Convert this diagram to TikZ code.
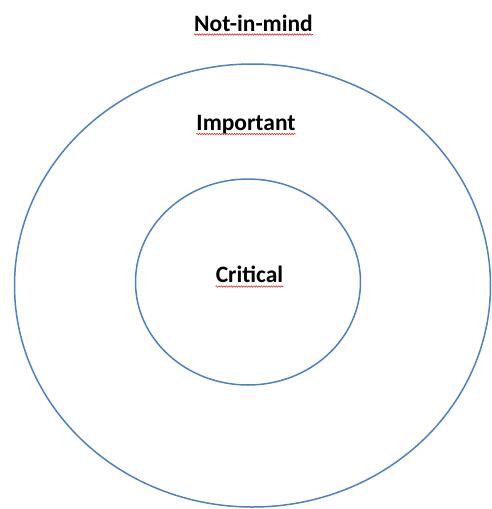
\documentclass[tikz,border=0pt]{standalone}
\usepackage{fontspec}
\setmainfont{Carlito}
\usetikzlibrary{decorations.pathmorphing}
\definecolor{ringblue}{RGB}{79,129,189}
\definecolor{squig}{RGB}{220,40,40}
\tikzset{
  ring/.style={draw=ringblue, line width=1.5pt},
  lbl/.style={font=\fontsize{23.5}{28}\selectfont\bfseries, anchor=base, inner sep=0pt},
  spell/.style={draw=squig, line width=0.6pt, decorate, decoration={snake, amplitude=0.7pt, segment length=2.5pt}}
}
\begin{document}
\begin{tikzpicture}[x=1pt,y=-1pt]
\useasboundingbox (0,0) rectangle (492,509);
\draw[ring] (252.5,285.5) ellipse [x radius=238, y radius=221.5];
\draw[ring] (248,282) ellipse [x radius=112.5, y radius=103];
\node[lbl] (nim) at (253.5,31) {Not-in-mind};
\node[lbl] (imp) at (246,130) {Important};
\node[lbl] (cri) at (249.5,282) {Critical};
\draw[spell] ([yshift=-3.5pt]nim.base west) -- ([yshift=-3.5pt]nim.base east);
\draw[spell] ([yshift=-4pt]imp.base west) -- ([yshift=-4pt]imp.base east);
\draw[spell] ([yshift=-4.5pt]cri.base west) -- ([yshift=-4.5pt]cri.base east);
\end{tikzpicture}
\end{document}
